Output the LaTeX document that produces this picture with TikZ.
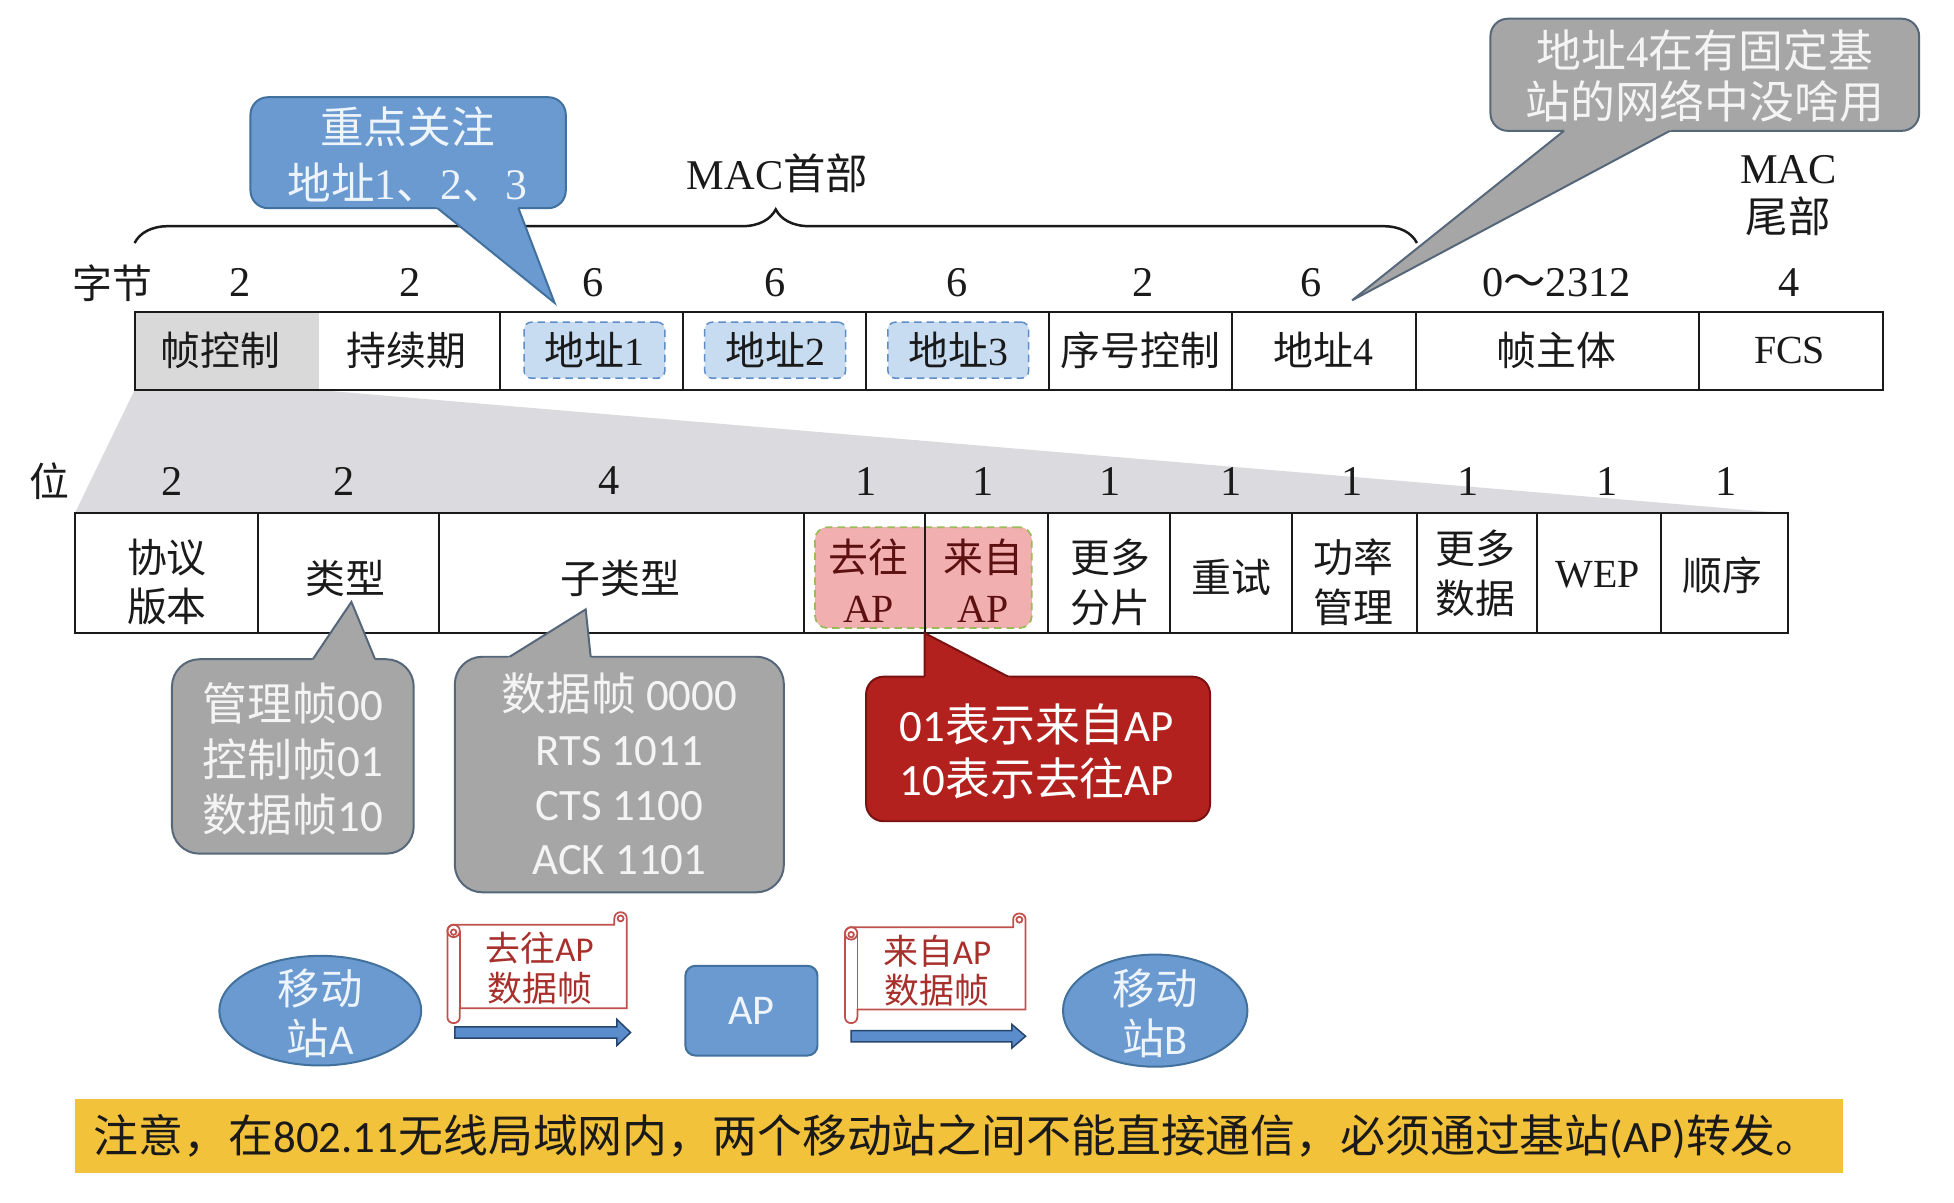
\documentclass[tikz,border=0pt]{standalone}
\usepackage{fontspec}
\setmainfont{Liberation Serif}
\setsansfont{Carlito}
\newfontfamily\zhfont{Noto Sans CJK SC}
\newcommand\zh[1]{{\zhfont #1}}
\usetikzlibrary{calc,decorations.pathreplacing,shapes.geometric}

\definecolor{ink}{HTML}{1A1A1A}
\definecolor{cellgray}{HTML}{D9D9D9}
\definecolor{zoomgray}{HTML}{DBDBDF}
\definecolor{addrfill}{HTML}{C7DCF1}
\definecolor{addrline}{HTML}{5E8DC8}
\definecolor{pinkfill}{HTML}{F2AFAF}
\definecolor{pinkline}{HTML}{9BBB59}
\definecolor{flagtext}{HTML}{5C1010}
\definecolor{bluefill}{HTML}{6A9AD0}
\definecolor{blueline}{HTML}{41719C}
\definecolor{bluetext}{HTML}{EEF4FB}
\definecolor{grayfill}{HTML}{A6A6A6}
\definecolor{grayline}{HTML}{56677A}
\definecolor{graytext}{HTML}{F4F4F4}
\definecolor{redfill}{HTML}{B3211E}
\definecolor{redline}{HTML}{7A1212}
\definecolor{scrollline}{HTML}{C0504D}
\definecolor{scrolltext}{HTML}{A8302C}
\definecolor{arrowfill}{HTML}{5B8CCB}
\definecolor{arrowline}{HTML}{27466E}
\definecolor{banner}{HTML}{F3C23B}

\tikzset{
  txcell/.style={font=\fontsize{16}{20}\selectfont, text=ink, align=center, inner sep=0pt},
  txnum/.style={font=\fontsize{17}{20}\selectfont, text=ink, inner sep=0pt},
  tabrule/.style={draw=ink, line width=0.8pt},
  addrbox/.style={draw=addrline, fill=addrfill, dash pattern=on 3pt off 2pt, line width=0.6pt,
    rounded corners=3pt, minimum width=56.5pt, minimum height=22.5pt, inner sep=0pt,
    font=\fontsize{16}{20}\selectfont, text=ink},
  flagbox/.style={draw=pinkline, fill=pinkfill, dash pattern=on 3pt off 2pt, line width=0.7pt,
    rounded corners=5pt, inner sep=0pt, minimum width=87pt, minimum height=40.5pt},
  flagtx/.style={txcell, text=flagtext},
  bubbletx/.style={align=center, inner sep=0pt},
  station/.style={ellipse, fill=bluefill, draw=blueline, line width=0.8pt, inner sep=0pt},
  stationtx/.style={align=center, inner sep=0pt, text=bluetext, font=\sffamily\fontsize{17}{20}\selectfont},
  scrolltx/.style={align=center, inner sep=0pt, text=scrolltext, font=\sffamily\fontsize{14}{16}\selectfont},
  scrollrim/.style={draw=scrollline, line width=0.7pt},
  blockarrow/.style={fill=arrowfill, draw=arrowline, line width=0.6pt, line join=miter},
}

% pointer of a speech bubble: fill colour, rim colour, base point, tip, base point
\newcommand\calltail[5]{%
  \fill[#1] ($(#3)!-0.12!(#4)$) -- (#4) -- ($(#5)!-0.12!(#4)$) -- cycle;
  \draw[#2, line width=0.8pt, line join=miter] (#3) -- (#4) -- (#5);
}

% rolled paper sheet: x left, x right, y curl top, y top edge, y body bottom, y roll bottom
\newcommand\scrollsheet[6]{%
  \draw[scrollrim, fill=white]
    (#1,#4+5) -- (#1,#6-5) .. controls (#1,#6+1.67) and (#1+10,#6+1.67) .. (#1+10,#6-5)
    -- (#1+10,#5) -- (#2,#5) -- (#2,#3+5)
    .. controls (#2,#3-1.67) and (#2-10,#3-1.67) .. (#2-10,#3+5)
    -- (#2-10,#4) -- (#1+5,#4) .. controls (#1+2.24,#4) and (#1,#4+2.76) .. (#1,#4+5) -- cycle;
  \draw[scrollrim] (#1+10,#4+5) -- (#1+10,#5);
  \draw[scrollrim] (#1+5,#4+5) circle[radius=2.5pt];
  \draw[scrollrim] (#1+5,#4+6) circle[radius=1.1pt];
  \draw[scrollrim] (#2-5,#3+5) circle[radius=1.2pt];
}

% flat block arrow: x start, x head base, x tip, y centre, half shaft, half head
\newcommand\flatarrow[6]{%
  \draw[blockarrow] (#1,#4-#5) -- (#2,#4-#5) -- (#2,#4-#6) -- (#3,#4) -- (#2,#4+#6)
    -- (#2,#4+#5) -- (#1,#4+#5) -- cycle;
}

\begin{document}
\begin{tikzpicture}[x=0.5pt,y=-0.5pt]
\useasboundingbox (0,0) rectangle (1568,965);
\fill[white] (0,0) rectangle (1568,965);

% ---------- byte layout of the frame ----------
\fill[zoomgray] (108,313) -- (256,313) -- (1435,412) -- (60,412) -- cycle;
\fill[cellgray] (108,250) rectangle (256,313);

\node[addrbox] (a1) at (477,281) {\zh{地址}1};
\node[addrbox] (a2) at (622,281) {\zh{地址}2};
\node[addrbox] (a3) at (769,281) {\zh{地址}3};

\draw[tabrule] (108,250) rectangle (1511,313);
\foreach \x in {401,548,695,842,989,1136,1363} \draw[tabrule] (\x,250) -- (\x,313);

\node[txcell] (fc)   at (177,281) {\zh{帧控制}};
\node[txcell] (dur)  at (326,281) {\zh{持续期}};
\node[txcell] (seq)  at (915,281) {\zh{序号控制}};
\node[txcell] (a4)   at (1062,281) {\zh{地址}4};
\node[txcell] (body) at (1249,281) {\zh{帧主体}};
\node[txcell] (fcs)  at (1436,281) {FCS};

\node[txcell] (bytes) at (90,227) {\zh{字节}};
\foreach \x/\n [count=\i] in {193/2,329/2,476/6,622/6,768/6,917/2,1052/6,1436/4}
  \node[txnum] (bn\i) at (\x,227) {\n};
\node[txnum] (bnbody) at (1249,227) {0\zh{～}2312};

% MAC header brace and trailer label
\draw[ink, line width=1pt, decorate, decoration={brace, amplitude=13.5pt}] (108,195) -- (1137,195);
\node[txcell, font=\fontsize{17}{20}\selectfont] (hdr) at (624,139) {MAC\zh{首部}};
\node[txcell, font=\fontsize{17}{20}\selectfont] (trl) at (1435,157) {MAC\\\zh{尾部}};

% ---------- bit layout of the frame control field ----------
\node[flagbox] (dsbox) at (741,463.5) {};

\draw[tabrule] (60,412) rectangle (1435,508);
\foreach \x in {207,352,645,742,841,939,1037,1137,1233,1333} \draw[tabrule] (\x,412) -- (\x,508);

\node[txcell] (bits) at (40,386) {\zh{位}};
\foreach \x/\n [count=\i] in {138/2,276/2,489/4,695/1,789/1,891/1,988/1,1085/1,1178/1,1290/1,1385/1}
  \node[txnum] (fn\i) at (\x,386) {\n};

\node[txcell] (ver)   at (134,467) {\zh{协议}\\\zh{版本}};
\node[txcell] (type)  at (277,464) {\zh{类型}};
\node[txcell] (sub)   at (498,464) {\zh{子类型}};
\node[flagtx] (tods)  at (697,466) {\zh{去往}\\AP};
\node[flagtx] (frds)  at (789,466) {\zh{来自}\\AP};
\node[txcell] (mf)    at (891,467) {\zh{更多}\\\zh{分片}};
\node[txcell] (retry) at (988,463) {\zh{重试}};
\node[txcell] (pm)    at (1086,467) {\zh{功率}\\\zh{管理}};
\node[txcell] (md)    at (1184,460) {\zh{更多}\\\zh{数据}};
\node[txcell] (wep)   at (1282,461) {WEP};
\node[txcell] (order) at (1382,462) {\zh{顺序}};

% ---------- remarks ----------
\draw[fill=bluefill, draw=blueline, line width=0.8pt, rounded corners=7pt] (201,78) rectangle (454,167);
\calltail{bluefill}{blueline}{351,167}{445,243}{416,167}
\node[bubbletx, text=bluetext, font=\fontsize{17.5}{22.5}\selectfont] (focus) at (327,124)
  {\zh{重点关注}\\\zh{地址}1\zh{、}2\zh{、}3};

\draw[fill=grayfill, draw=grayline, line width=0.8pt, rounded corners=7pt] (1196,15) rectangle (1540,105);
\calltail{grayfill}{grayline}{1255,105}{1085,241}{1340,105}
\node[bubbletx, text=graytext, font=\fontsize{18}{20.5}\selectfont] (a4note) at (1368,61)
  {\zh{地址}4\zh{在有固定基}\\\zh{站的网络中没啥用}};

\draw[fill=grayfill, draw=grayline, line width=0.8pt, rounded corners=11pt] (138,529) rectangle (332,685);
\calltail{grayfill}{grayline}{251,529}{282,483}{301,529}
\node[bubbletx, text=graytext, font=\sffamily\fontsize{18}{22.2}\selectfont] (typenote) at (235,609)
  {\zh{管理帧}00\\\zh{控制帧}01\\\zh{数据帧}10};

\draw[fill=grayfill, draw=grayline, line width=0.8pt, rounded corners=11pt] (365,527) rectangle (629,716);
\calltail{grayfill}{grayline}{409,527}{470,489}{474,527}
\node[bubbletx, text=graytext, font=\sffamily\fontsize{18}{22}\selectfont] (subnote) at (497,621)
  {\zh{数据帧} 0000\\RTS 1011\\CTS 1100\\ACK 1101};

\draw[fill=redfill, draw=redline, line width=0.8pt, rounded corners=7pt] (695,543) rectangle (971,659);
\calltail{redfill}{redline}{742,543}{742,508}{809,543}
\node[bubbletx, text=white, font=\sffamily\fontsize{18}{21.5}\selectfont] (dsnote) at (832,603)
  {01\zh{表示来自}AP\\10\zh{表示去往}AP};

% ---------- relaying through the access point ----------
\node[station, minimum width=81pt, minimum height=44pt] (staA) at (257,811) {};
\node[stationtx] (staAtx) at (257,813) {\zh{移动}\\\zh{站}A};
\node[fill=bluefill, draw=blueline, line width=0.8pt, rounded corners=4pt,
      minimum width=53pt, minimum height=36pt, inner sep=0pt,
      text=bluetext, font=\sffamily\fontsize{17}{20}\selectfont] (ap) at (603,811) {AP};
\node[station, minimum width=74pt, minimum height=45pt] (staB) at (927,811) {};
\node[stationtx] (staBtx) at (927,813) {\zh{移动}\\\zh{站}B};

\scrollsheet{359}{503}{732}{742}{809}{821}
\node[scrolltx] (upframe) at (433,777) {\zh{去往}AP\\\zh{数据帧}};
\scrollsheet{678}{823}{733}{744}{810}{821}
\node[scrolltx] (downframe) at (752,779) {\zh{来自}AP\\\zh{数据帧}};

\flatarrow{365}{495}{506}{828.5}{4.5}{10.5}
\flatarrow{683}{812}{823}{831.5}{4.5}{9.5}

% ---------- note bar ----------
\node[fill=banner, minimum width=709.5pt, minimum height=29.5pt, inner sep=0pt] (notebar) at (769.5,911.5) {};
\node[anchor=west, inner sep=0pt, text=ink, font=\sffamily\fontsize{18}{20}\selectfont] (notetx) at (75,912)
  {\zh{注意，在}802.11\zh{无线局域网内，两个移动站之间不能直接通信，必须通过基站}(AP)\zh{转发。}};
\end{tikzpicture}
\end{document}
